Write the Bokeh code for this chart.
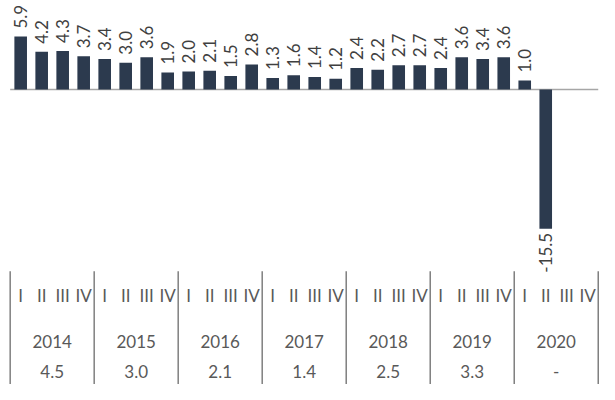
from bokeh.plotting import figure
from bokeh.models import Range1d, ColumnDataSource
from bokeh.core.properties import value
from bokeh.embed import file_html
from bokeh.resources import INLINE

# ---- data ----
years = ["2014", "2015", "2016", "2017", "2018", "2019", "2020"]
quarters = ["I", "II", "III", "IV"]
annual = ["4.5", "3.0", "2.1", "1.4", "2.5", "3.3", "-"]
quarterly = [5.9, 4.2, 4.3, 3.7,
             3.4, 3.0, 3.6, 1.9,
             2.0, 2.1, 1.5, 2.8,
             1.3, 1.6, 1.4, 1.2,
             2.4, 2.2, 2.7, 2.7,
             2.4, 3.6, 3.4, 3.6,
             1.0, -15.5]

W, H = 599, 384
FONT = value("Lato")
BAR = "#2c3a4e"
LBL = "#3f3f3f"
TBL = "#595959"

p = figure(width=W, height=H, x_range=Range1d(-0.961, 27.56), y_range=Range1d(-32.84, 9.92),
           output_backend="svg", toolbar_location=None, min_border=0,
           x_axis_type=None, y_axis_type=None)
p.grid.visible = False
p.outline_line_color = None
p.background_fill_color = "white"
p.extra_y_ranges = {"px": Range1d(start=H, end=0)}

n_slots = len(years) * len(quarters)
idx = list(range(len(quarterly)))

# zero line
p.segment(x0=[-0.5], y0=[0], x1=[n_slots - 0.5], y1=[0], line_color="#a6a6a6", line_width=1.5)

# bars
src = ColumnDataSource(dict(x=idx, top=quarterly))
p.vbar(x="x", top="top", bottom=0, width=0.6, source=src, fill_color=BAR, line_color=None)

pos = [i for i, v in enumerate(quarterly) if v >= 0]
neg = [i for i, v in enumerate(quarterly) if v < 0]
p.text(x=pos, y=[quarterly[i] for i in pos], text=[f"{quarterly[i]:.1f}" for i in pos],
       angle=1.5708, text_align="left", text_baseline="middle", y_offset=-8,
       text_font=FONT, text_font_size="17px", text_color=LBL)
p.text(x=neg, y=[quarterly[i] for i in neg], text=[f"{quarterly[i]:.1f}" for i in neg],
       angle=1.5708, text_align="right", text_baseline="middle", y_offset=4,
       text_font=FONT, text_font_size="17px", text_color=LBL)

# table separators
sep_x = [k * len(quarters) - 0.5 for k in range(len(years) + 1)]
p.segment(x0=sep_x, y0=[270.7] * len(sep_x), x1=sep_x, y1=[H] * len(sep_x),
          y_range_name="px", line_color="#7f7f7f", line_width=1.5)

# quarter labels
qx = list(range(n_slots))
ql = [quarters[i % 4] for i in qx]
p.text(x=qx, y=[295] * n_slots, text=ql, y_range_name="px", text_align="center",
       text_baseline="middle", text_font=FONT, text_font_size="17px", text_color=TBL)

# year labels and annual values
yc = [k * 4 + 1.5 for k in range(len(years))]
p.text(x=yc, y=[341] * len(years), text=years, y_range_name="px", text_align="center",
       text_baseline="middle", text_font=FONT, text_font_size="17px", text_color=TBL)
p.text(x=yc, y=[371] * len(years), text=annual, y_range_name="px", text_align="center",
       text_baseline="middle", text_font=FONT, text_font_size="17px", text_color=TBL)

open("out.html", "w").write(file_html(p, INLINE))
